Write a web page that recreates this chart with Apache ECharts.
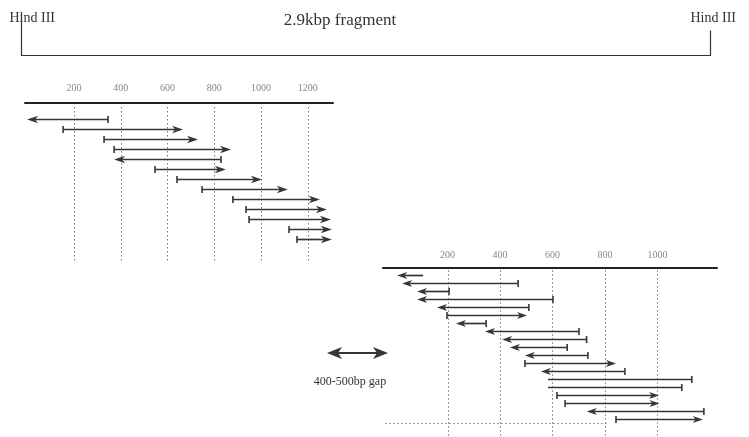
<!DOCTYPE html>
<html><head><meta charset="utf-8">
<script src="https://cdn.jsdelivr.net/npm/echarts@6/dist/echarts.min.js"></script>
<style>html,body{margin:0;padding:0;background:#fff}#c{width:749px;height:437px}</style>
</head><body><div id="c"></div>
<script>
// ---- data ----
const fragmentLength = 2900;            // bp between the two Hind III sites
const siteName = 'Hind III';
const fragmentTitle = '2.9kbp fragment';
const gapLabel = '400-500bp gap';
const upperTicks = [200, 400, 600, 800, 1000, 1200];
const lowerTicks = [200, 400, 600, 800, 1000];
// [start bp, end bp, kind]  kind: L = arrow left + tick right, R = tick left + arrow right,
// l = arrow left only, T = tick right only
const upperReads = [
  [0, 346, 'L'], [154, 667, 'R'], [329, 731, 'R'], [372, 872, 'R'], [372, 829, 'L'],
  [547, 850, 'R'], [641, 1004, 'R'], [748, 1115, 'R'], [880, 1252, 'R'], [936, 1282, 'R'],
  [949, 1299, 'R'], [1120, 1303, 'R'], [1154, 1303, 'R']
];
const lowerReads = [
  [8, 107, 'l'], [27, 469, 'L'], [84, 206, 'L'], [84, 602, 'L'], [160, 510, 'L'],
  [198, 503, 'R'], [232, 347, 'L'], [343, 701, 'L'], [408, 730, 'L'], [438, 656, 'L'],
  [495, 735, 'L'], [495, 842, 'R'], [556, 876, 'L'], [583, 1131, 'T'], [583, 1093, 'T'],
  [617, 1006, 'R'], [648, 1008, 'R'], [731, 1177, 'L'], [842, 1173, 'R']
];
const lowerDottedLine = [-38, 811];     // bp span of the dotted line under the lower reads
const lowerDottedRow = 18.5;

// ---- rendering ----
const INK = '#363636';
const SERIF = '"Liberation Serif", "DejaVu Serif", serif';

function arrowHead(x, y, dir, len, hw) {
  return {
    type: 'polygon',
    shape: { points: [[x, y], [x - dir * len, y - hw], [x - dir * len * 0.72, y], [x - dir * len, y + hw]] },
    style: { fill: INK }
  };
}

function makeReadRenderer(reads, len, hw) {
  return function (params, api) {
    const r = reads[params.dataIndex];
    const row = params.dataIndex;
    const a = api.coord([r[0], row]);
    const b = api.coord([r[1], row]);
    const y = Math.round(a[1]) + 0.5;
    const kind = r[2];
    const ch = [];
    let s1 = a[0], s2 = b[0];
    if (kind === 'L' || kind === 'l') s1 += len * 0.6;
    if (kind === 'R') s2 -= len * 0.6;
    ch.push({ type: 'line', shape: { x1: s1, y1: y, x2: s2, y2: y }, style: { stroke: INK, lineWidth: 1.7 } });
    if (kind === 'L' || kind === 'l') ch.push(arrowHead(a[0], y, -1, len, hw));
    if (kind === 'R') ch.push(arrowHead(b[0], y, 1, len, hw));
    if (kind === 'L' || kind === 'T') ch.push({ type: 'line', shape: { x1: b[0], y1: y - 3.5, x2: b[0], y2: y + 3.5 }, style: { stroke: INK, lineWidth: 1.6 } });
    if (kind === 'R') ch.push({ type: 'line', shape: { x1: a[0], y1: y - 3.5, x2: a[0], y2: y + 3.5 }, style: { stroke: INK, lineWidth: 1.6 } });
    return { type: 'group', children: ch };
  };
}

function makeGuideRenderer(ticks, yFrom, yTo) {
  return function (params, api) {
    const v = ticks[params.dataIndex];
    const p1 = api.coord([v, yFrom]);
    const p2 = api.coord([v, yTo]);
    const x = Math.round(p1[0]) + 0.5;
    return { type: 'line', shape: { x1: x, y1: p1[1], x2: x, y2: p2[1] },
      style: { stroke: '#777', lineWidth: 1, lineDash: [1.5, 2.5] } };
  };
}

function bracketRenderer(params, api) {
  const l = api.coord([0, 0]);
  const r = api.coord([fragmentLength, 0]);
  const yb = Math.round(l[1]) + 0.5;
  const xl = Math.round(l[0]) + 0.5, xr = Math.round(r[0]) + 0.5;
  const txt = (x) => ({ type: 'text', x: x, y: 18,
    style: { text: siteName, fill: '#333', font: '14px ' + SERIF, textVerticalAlign: 'middle', textAlign: 'left' } });
  return { type: 'group', children: [
    { type: 'polyline', shape: { points: [[xl, yb - 43], [xl, yb], [xr, yb], [xr, yb - 25]] },
      style: { stroke: '#333', lineWidth: 1.2, fill: null } },
    txt(xl - 12), txt(xr - 20)
  ] };
}

function dottedRenderer(params, api) {
  const a = api.coord([lowerDottedLine[0], lowerDottedRow]);
  const b = api.coord([lowerDottedLine[1], lowerDottedRow]);
  const y = Math.round(a[1]) + 0.5;
  return { type: 'line', shape: { x1: a[0], y1: y, x2: b[0], y2: y },
    style: { stroke: '#777', lineWidth: 1, lineDash: [1.5, 2.5] } };
}

const axisCommon = {
  type: 'value', position: 'top',
  axisLine: { show: true, onZero: false, lineStyle: { color: '#222', width: 2 } },
  axisTick: { show: false }, splitLine: { show: false }
};
const labelCommon = { fontSize: 10, color: '#888', fontFamily: SERIF, formatter: (v) => String(v) };

const chart = echarts.init(document.getElementById('c'), null, { renderer: 'canvas' });
chart.setOption({
  animation: false,
  backgroundColor: '#fff',
  title: { text: fragmentTitle, left: 335, top: 7, textAlign: 'center',
    textStyle: { fontFamily: SERIF, fontSize: 17, fontWeight: 'normal', color: '#333' } },
  grid: [
    { left: 25, top: 103, width: 308, height: 160 },
    { left: 383, top: 268, width: 334, height: 169 },
    { left: 21, top: 12, width: 689, height: 43 }
  ],
  xAxis: [
    Object.assign({}, axisCommon, { gridIndex: 0, min: -9, max: 1308,
      axisLabel: Object.assign({ customValues: upperTicks, margin: 10 }, labelCommon) }),
    Object.assign({}, axisCommon, { gridIndex: 1, min: -46, max: 1227,
      axisLabel: Object.assign({ customValues: lowerTicks, margin: 8 }, labelCommon) }),
    { type: 'value', gridIndex: 2, min: 0, max: fragmentLength, show: false }
  ],
  yAxis: [
    { type: 'value', gridIndex: 0, min: -1.6, max: 14.4, inverse: true, show: false },
    { type: 'value', gridIndex: 1, min: -0.875, max: 20.25, inverse: true, show: false },
    { type: 'value', gridIndex: 2, min: 0, max: 1, show: false }
  ],
  graphic: [
    { type: 'group', children: [
      { type: 'line', shape: { x1: 334, y1: 353, x2: 381, y2: 353 }, style: { stroke: INK, lineWidth: 2.2 } },
      { type: 'polygon', shape: { points: [[327, 353], [342, 347], [338, 353], [342, 359]] }, style: { fill: INK } },
      { type: 'polygon', shape: { points: [[388, 353], [373, 347], [377, 353], [373, 359]] }, style: { fill: INK } }
    ] },
    { type: 'text', x: 350, y: 382, style: { text: gapLabel, fill: '#333', font: '12px ' + SERIF,
      textAlign: 'center', textVerticalAlign: 'middle' } }
  ],
  series: [
    { type: 'custom', xAxisIndex: 0, yAxisIndex: 0, data: upperTicks.map(v => [v]),
      renderItem: makeGuideRenderer(upperTicks, -1.2, 14.4), silent: true },
    { type: 'custom', xAxisIndex: 1, yAxisIndex: 1, data: lowerTicks.map(v => [v]),
      renderItem: makeGuideRenderer(lowerTicks, -0.6, 20.25), silent: true },
    { type: 'custom', xAxisIndex: 1, yAxisIndex: 1, data: [[lowerDottedLine[0], lowerDottedLine[1]]],
      renderItem: dottedRenderer, silent: true },
    { type: 'custom', xAxisIndex: 0, yAxisIndex: 0, data: upperReads.map((r, i) => [r[0], r[1], i]),
      renderItem: makeReadRenderer(upperReads, 11, 3.8), silent: true },
    { type: 'custom', xAxisIndex: 1, yAxisIndex: 1, data: lowerReads.map((r, i) => [r[0], r[1], i]),
      renderItem: makeReadRenderer(lowerReads, 10, 3.4), silent: true },
    { type: 'custom', xAxisIndex: 2, yAxisIndex: 2, data: [[0, fragmentLength]],
      renderItem: bracketRenderer, silent: true }
  ]
});
</script></body></html>
